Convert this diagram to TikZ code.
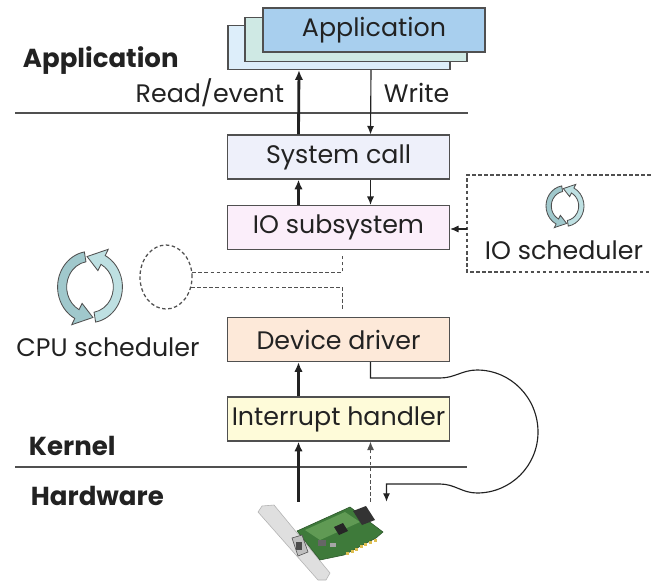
\documentclass[tikz,border=0pt]{standalone}
\usepackage{fontspec}
\setmainfont{Poppins}
\usetikzlibrary{arrows.meta, positioning, shapes.geometric}
\definecolor{TextGray}{RGB}{34,34,34}
\definecolor{EdgeGray}{RGB}{80,80,80}
\definecolor{AppBack}{RGB}{221,238,250}
\definecolor{AppMid}{RGB}{207,233,228}
\definecolor{AppFront}{RGB}{168,207,238}
\definecolor{CallFill}{RGB}{238,240,250}
\definecolor{SubFill}{RGB}{251,238,250}
\definecolor{DriverFill}{RGB}{253,233,217}
\definecolor{HandlerFill}{RGB}{254,251,217}
\definecolor{CycleTeal}{RGB}{190,224,226}
\definecolor{CycleDark}{RGB}{160,200,204}
\definecolor{PcbGreen}{RGB}{62,122,58}
\definecolor{PcbLight}{RGB}{96,154,84}
\definecolor{PinGold}{RGB}{222,190,80}

\begin{document}
\begin{tikzpicture}[x=0.025cm,y=-0.025cm,
    every node/.style={font=\fontsize{18}{22}\selectfont,text=TextGray},
    box/.style={draw=EdgeGray,line width=0.8pt,inner sep=0pt,
                minimum width=5.55cm,minimum height=1.1cm},
    layer/.style={font=\fontsize{18.5}{22}\selectfont\bfseries,anchor=base west},
    uparrow/.style={-{Latex[length=7pt,width=6pt]},line width=2pt,TextGray},
    downarrow/.style={-{Latex[length=6pt,width=5pt]},line width=0.8pt,TextGray},
    dashline/.style={EdgeGray,line width=0.9pt,dash pattern=on 2.5pt off 1.8pt},
    schedicon/.pic={
      \foreach \a/\c in {180/CycleDark,0/CycleTeal}{
        \filldraw[rotate=\a,fill=\c,draw=EdgeGray,line width=0.6pt]
          (-80:1cm) arc[start angle=-80,end angle=62,radius=1cm]
          -- (62:1.2cm) -- (96:0.86cm) -- (62:0.52cm) -- (62:0.72cm)
          arc[start angle=62,end angle=-80,radius=0.72cm] -- cycle;
      }
    }]
  \useasboundingbox[fill=white] (0,0) rectangle (651,580);

  % application stack
  \node[box,fill=AppBack]  (app3) at (339,47.5) {};
  \node[box,fill=AppMid]   (app2) at (356,39.5) {};
  \node[box,fill=AppFront] (app1) at (374,30)   {Application};

  % kernel boxes
  \node[box,fill=CallFill]    (sc)  at (338.5,157)   {System call};
  \node[box,fill=SubFill]     (ios) at (338.5,227.5) {IO subsystem};
  \node[box,fill=DriverFill]  (dd)  at (338.5,339.5) {Device driver};
  \node[box,fill=HandlerFill] (ih)  at (338.5,419)   {Interrupt handler};

  % layer separators and labels
  \draw[EdgeGray,line width=0.8pt] (15,113) -- (468,113);
  \draw[EdgeGray,line width=0.8pt] (15,467) -- (467,467);
  \node[layer] at (18,67)  {Application};
  \node[layer] at (24,455) {Kernel};
  \node[layer] at (26,505) {Hardware};
  \node[anchor=base east] at (289,102) {Read/event};
  \node[anchor=base west] at (379,102) {Write};

  % data path arrows
  \draw[uparrow]   ([xshift=-1cm]sc.north)   -- ([xshift=-1cm]app3.south);
  \draw[downarrow] ([xshift=0.8cm]app3.south) -- ([xshift=0.8cm]sc.north);
  \draw[uparrow]   ([xshift=-1cm]ios.north)  -- ([xshift=-1cm]sc.south);
  \draw[downarrow] ([xshift=0.8cm]sc.south)  -- ([xshift=0.8cm]ios.north);
  \draw[uparrow]   ([xshift=-1cm]ih.north)   -- ([xshift=-1cm]dd.south);

  % IO scheduler
  \draw[dashline] (651,175) -- (467,175) -- (467,272) -- (651,272);
  \coordinate (ioschedin) at (467,229);
  \pic[xscale=0.475,yscale=0.51] at (565,206) {schedicon};
  \node (iosched) at (564,250) {IO scheduler};
  \draw[downarrow] (ioschedin) -- (ioschedin -| ios.east);

  % CPU scheduler
  \pic[xscale=0.81,yscale=0.89] at (90,287) {schedicon};
  \node (cpusched) at (108,347) {CPU scheduler};
  \node[ellipse,dashline,draw,minimum width=1.3cm,minimum height=1.6cm] (cpuslot) at (166,277) {};
  \draw[dashline] (cpuslot.10) -| ([xshift=0.1cm,yshift=-0.15cm]ios.south);
  \draw[dashline] (cpuslot.-22) -| ([xshift=0.1cm,yshift=0.2cm]dd.north);

  % network card
  \node[minimum width=3.3cm,minimum height=1.8cm] (nic) at (338.5,538) {};
  \begin{scope}[line width=0.4pt]
    \filldraw[fill=gray!25,draw=gray!60] (258,512) -- (262,506) -- (274,505) -- (330,573) -- (326,580) -- (318,580) -- cycle;
    \filldraw[fill=PcbGreen,draw=PcbGreen!70!black] (297,531) -- (350,507) -- (383,532) -- (376,538) -- (344,555) -- (320,560) -- cycle;
    \fill[PcbLight] (305,530) -- (345,512) -- (360,522) -- (320,540) -- cycle;
    \foreach \i in {0,...,6}
      \fill[PinGold] ({346+4.6*\i},{552-2.2*\i}) rectangle ++(3,3);
    \fill[black!80] (353,511) -- (366,506) -- (375,520) -- (362,525) -- cycle;
    \fill[black!85] (334,527) -- (343,523) -- (348,531) -- (339,535) -- cycle;
    \filldraw[fill=gray!50,draw=black!70] (292,538) -- (302,535) -- (308,552) -- (298,556) -- cycle;
    \fill[black!70] (296,542) rectangle (302,550);
    \fill[black!60] (318,540) rectangle (326,546);
    \fill[gray!70] (330,543) rectangle (336,547);
  \end{scope}

  % interrupt and DMA paths
  \draw[uparrow] ([xshift=-1cm]nic.north) -- ([xshift=-1cm]ih.south);
  \draw[downarrow,dashline] ([xshift=0.8cm]nic.north) -- ([xshift=0.8cm]ih.south);
  \draw[downarrow] ([xshift=0.8cm]dd.south) |- (440,378)
    to[out=0,in=180] (477,370) to[out=0,in=90] (538,432)
    to[out=-90,in=0] (477,493) to[out=180,in=0] (440,484)
    -| ([xshift=1.2cm]nic.north);
\end{tikzpicture}
\end{document}
